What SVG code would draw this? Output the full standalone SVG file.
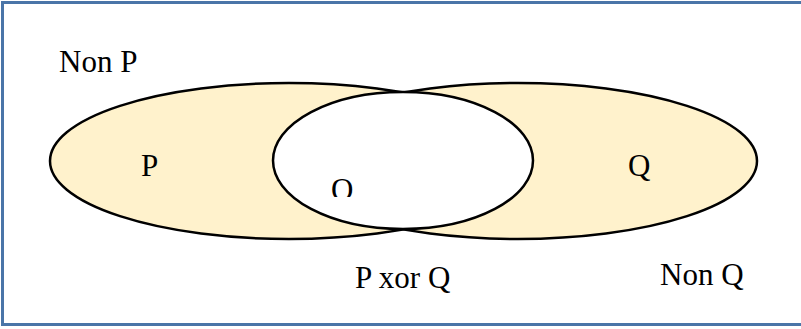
<svg xmlns="http://www.w3.org/2000/svg" width="801" height="329" viewBox="0 0 801 329">
<style>
.set{fill:#FFF2CC;stroke:#000;stroke-width:2.5}
.inner{fill:#fff;stroke:#000;stroke-width:2.5}
</style>
<defs>
<clipPath id="cutO"><rect x="300" y="150" width="100" height="47"/></clipPath>
</defs>
<rect x="2.5" y="2.5" width="830" height="322" fill="#fff" stroke="#4A75A8" stroke-width="3"/>
<g id="P">
<ellipse class="set" cx="289" cy="161" rx="239" ry="78"/>
</g>
<g id="Q">
<ellipse class="set" cx="518" cy="161" rx="239" ry="78"/>
</g>
<g id="PandQ">
<ellipse class="inner" cx="403" cy="160.5" rx="130" ry="68.5"/>
</g>
<g id="labels" font-family="Liberation Serif, Times New Roman, serif" font-size="31" fill="#000">
<text x="59" y="72">Non P</text>
<text x="141" y="176">P</text>
<text x="628" y="176">Q</text>
<text x="331" y="200" clip-path="url(#cutO)">O</text>
<text x="355" y="288">P xor Q</text>
<text x="660" y="285">Non Q</text>
</g>
</svg>
